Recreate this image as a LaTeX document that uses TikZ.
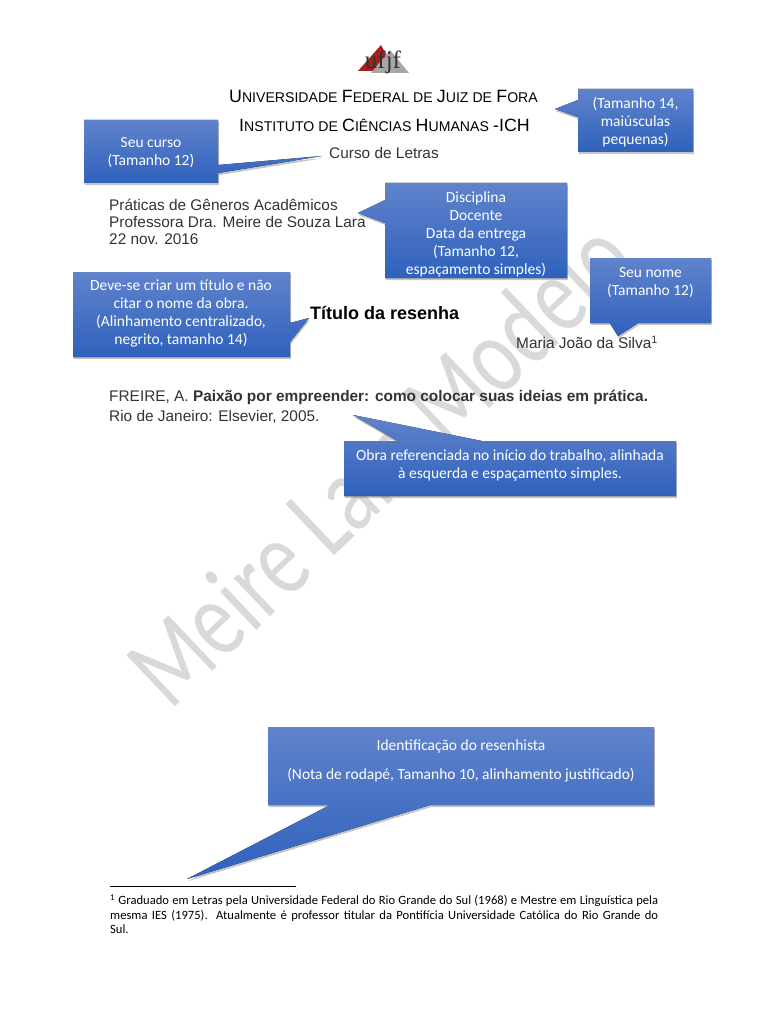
\documentclass[tikz,border=0pt]{standalone}
\usepackage{fontspec}
\setmainfont{Liberation Sans}
\newfontfamily\calibri{Carlito}
\newfontfamily\logofont{Liberation Serif}
\usetikzlibrary{shadows}
\newcommand{\capsmall}[2]{{\fontsize{17.8}{20}\selectfont #1}{\fontsize{14.1}{20}\selectfont #2}}

\tikzset{
	callout/.style = {top color=calloutTop, bottom color=calloutBottom, draw=none, drop shadow={shadow xshift=.8pt, shadow yshift=-2.2pt, fill=black!50, opacity=.45}},
	calloutText/.style = {font=\calibri\fontsize{15.5}{18}\selectfont, text=white, align=center, inner sep=0pt},
	docText/.style = {anchor=west, inner sep=0pt, text=black!80, font=\fontsize{15.4}{17}\selectfont},
}
\definecolor{calloutTop}{HTML}{6083CC}
\definecolor{calloutBottom}{HTML}{2F61BC}
\definecolor{logoRed}{HTML}{A3201F}

\begin{document}
\begin{tikzpicture}[x=1pt, y=-1pt]
		\useasboundingbox[fill=white] (0,0) rectangle (768,1024);

		% watermark
		\node (watermark) [rotate=43.5, xscale=.76, anchor=base west, text=black!15, font=\calibri\fontsize{110}{110}\selectfont, inner sep=0pt] at (170,712) {Meire Lara Modelo};

		% logo
		\fill[logoRed] (381,45) -- (395,71) -- (358,71) -- cycle;
		\fill[black!35] (390,50) -- (409,73) -- (371,73) -- cycle;
		\node (logo) [inner sep=0pt, font=\logofont\fontsize{25}{25}\selectfont, text=black!80] at (383,62) {ufjf};

		% header
		\node (universidade) [docText, anchor=center, text=black] at (383.5,96) {\capsmall{U}{NIVERSIDADE} \capsmall{F}{EDERAL DE} \capsmall{J}{UIZ DE} \capsmall{F}{ORA}};
		\node (instituto) [docText, anchor=center, text=black] at (384.5,125) {\capsmall{I}{NSTITUTO DE} \capsmall{C}{IÊNCIAS} \capsmall{H}{UMANAS} \capsmall{-ICH}{}};
		\node (curso) [docText] at (329,153) {Curso de Letras};

		\node (disciplina) [docText] at (109,205) {Práticas de Gêneros Acadêmicos};
		\node (docente) [docText] at (109,222) {Professora Dra. Meire de Souza Lara};
		\node (data) [docText] at (109,239) {22 nov. 2016};

		\node (titulo) [docText, text=black, font=\bfseries\fontsize{18}{20}\selectfont] at (310,313) {Título da resenha};
		\node (autor) [docText, font=\fontsize{15.4}{17}\selectfont] at (516,342) {Maria João da Silva\textsuperscript{1}};

		\node (obra) [docText] at (109,397) {FREIRE, A. \textbf{Paixão por empreender: como colocar suas ideias em prática.}};
		\node (cidade) [docText] at (109,417) {Rio de Janeiro: Elsevier, 2005.};

		% footnote
		\coordinate (ruleA) at (110,886);
		\coordinate (ruleB) at (296,886);
		\draw[black, thick] (ruleA) -- (ruleB);
		\node (rodape) [anchor=north west, inner sep=0pt, text width=548pt, align=justify, font=\calibri\fontsize{12.6}{14.6}\selectfont] at (110,894.5) {\textsuperscript{1} Graduado em Letras pela Universidade Federal do Rio Grande do Sul (1968) e Mestre em Linguística pela mesma IES (1975). Atualmente é professor titular da Pontifícia Universidade Católica do Rio Grande do\linebreak Sul.};

		% callouts
		\fill[callout] (84,120) -- (218,120) -- (218,165) -- (322,156) -- (218,173) -- (218,183) -- (84,183) -- cycle;
		\node (seuCurso) [calloutText] at (151,153) {Seu curso\\(Tamanho 12)};

		\fill[callout] (578,89) -- (693,89) -- (693,152) -- (578,152) -- (578,117) -- (555,109) -- (578,100) -- cycle;
		\node (tamanho) [calloutText] at (635.5,122) {(Tamanho 14,\\maiúsculas\\pequenas)};

		\fill[callout] (385,183) -- (567,183) -- (567,278) -- (385,278) -- (385,223) -- (358,213) -- (385,200) -- cycle;
		\node (dados) [calloutText] at (476,234) {Disciplina\\Docente\\Data da entrega\\(Tamanho 12,\\espaçamento simples)};

		\fill[callout] (590,258) -- (711,258) -- (711,323) -- (638,323) -- (618,336) -- (610,323) -- (590,323) -- cycle;
		\node (seuNome) [calloutText] at (650.5,282.5) {Seu nome\\(Tamanho 12)};

		\fill[callout] (73,272) -- (290,272) -- (290,323) -- (309,318) -- (290,342) -- (290,357) -- (73,357) -- cycle;
		\node (criar) [calloutText] at (181,313.5) {Deve-se criar um título e não\\citar o nome da obra.\\(Alinhamento centralizado,\\negrito, tamanho 14)};

		\fill[callout] (344,441) -- (398,441) -- (353,415) -- (482,441) -- (676,441) -- (676,496) -- (344,496) -- cycle;
		\node (referencia) [calloutText] at (510,465.5) {Obra referenciada no início do trabalho, alinhada\\à esquerda e espaçamento simples.};

		\fill[callout] (268,727) -- (654,727) -- (654,805) -- (430,805) -- (187,879) -- (330,805) -- (268,805) -- cycle;
		\node (identificacao) [calloutText, font=\calibri\fontsize{15.5}{29.5}\selectfont] at (461,761) {Identificação do resenhista\\(Nota de rodapé, Tamanho 10, alinhamento justificado)};
	\end{tikzpicture}
\end{document}
